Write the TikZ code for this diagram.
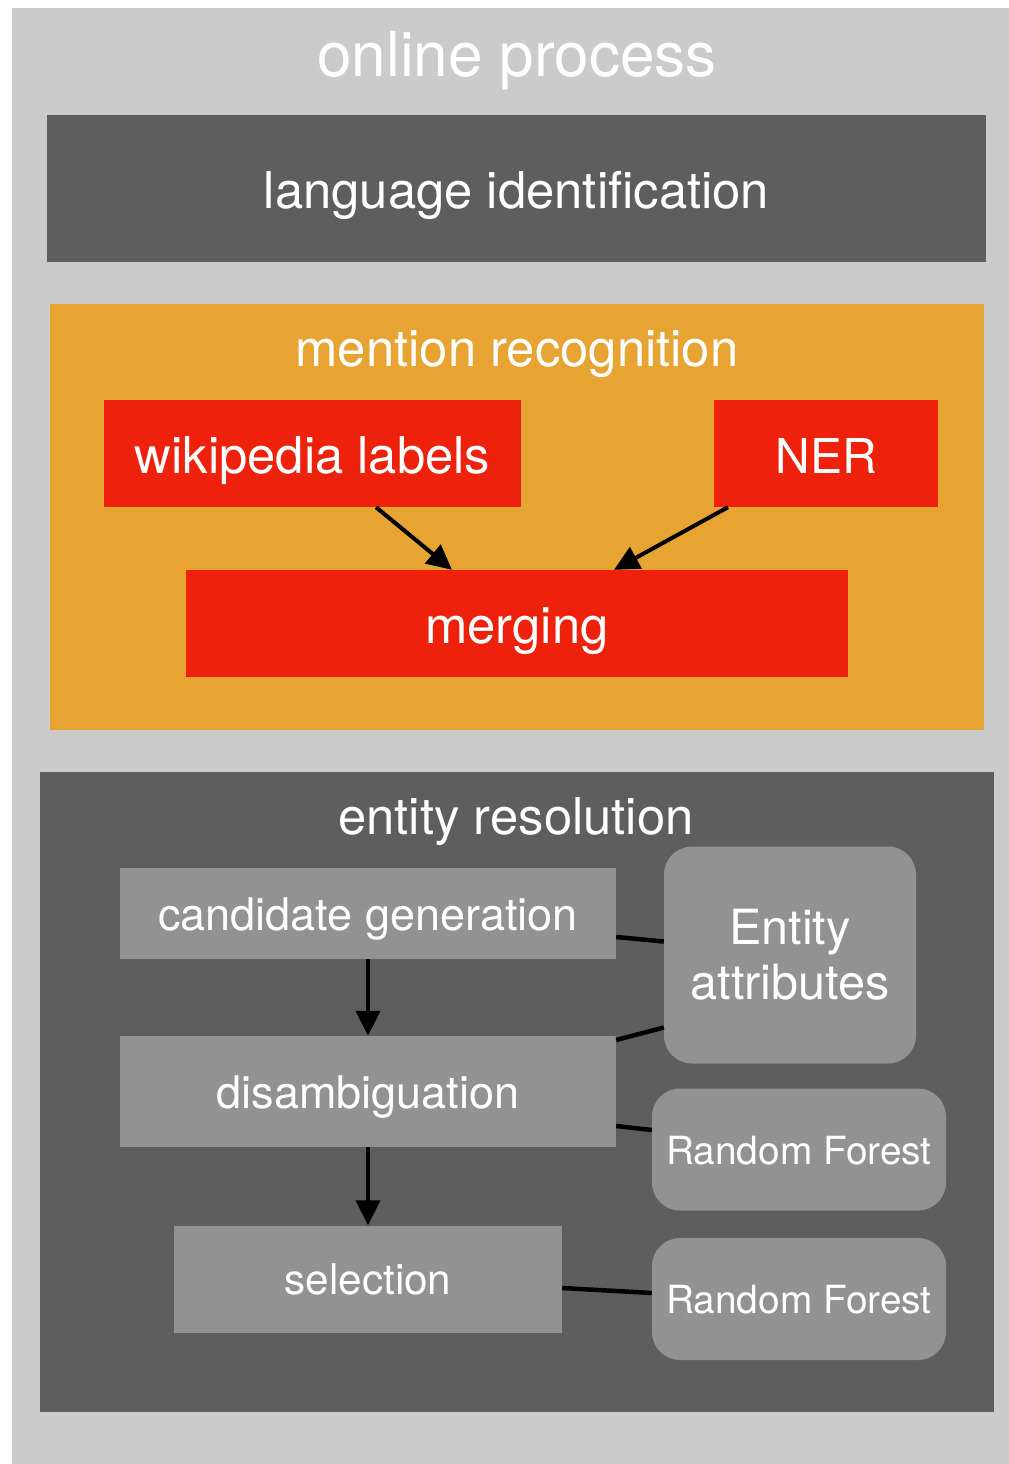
\documentclass[tikz,border=0pt]{standalone}
\usepackage{fontspec}
\setmainfont{TeX Gyre Heros}
\usetikzlibrary{arrows.meta}

\definecolor{panelgray}{HTML}{CBCBCB}
\definecolor{darkgray}{HTML}{5E5E5E}
\definecolor{midgray}{HTML}{929292}
\definecolor{stageorange}{HTML}{E8A433}
\definecolor{stepred}{HTML}{EE220C}

\tikzset{
  block/.style={rectangle, inner sep=0pt, text=white, align=center},
  heading/.style={inner sep=0pt, text=white, anchor=base},
  f62/.style={font=\fontsize{62pt}{74pt}\selectfont},
  f51/.style={font=\fontsize{50.8pt}{61pt}\selectfont, text height=39pt, text depth=0pt},
  f45/.style={font=\fontsize{45pt}{54pt}\selectfont, text height=34pt, text depth=0pt},
  f42/.style={font=\fontsize{42.3pt}{51pt}\selectfont, text height=31pt, text depth=0pt},
  f39/.style={font=\fontsize{38.8pt}{46pt}\selectfont, text height=29pt, text depth=0pt},
  redbox/.style={block, fill=stepred, f51},
  graybox/.style={block, fill=midgray},
  model/.style={block, fill=midgray, rounded corners=28pt},
  flow/.style={line width=4pt, -{Triangle[length=25pt, width=24pt]}},
  link/.style={line width=4.5pt},
}

\begin{document}
\begin{tikzpicture}[x=1pt, y=-1pt]
  \useasboundingbox (0,0) rectangle (1009,1464);
  \fill[white] (0,0) rectangle (1009,1464);
  \fill[panelgray] (12,8) rectangle (1009,1464);

  % overall title
  \node[heading, f62] (online) at (517,77) {online process};

  % language identification
  \node[block, fill=darkgray, minimum width=939pt, minimum height=147pt, f51]
    (langid) at (516.5,188.5) {language identification};

  % mention recognition stage
  \node[block, fill=stageorange, minimum width=934pt, minimum height=426pt]
    (mention) at (517,517) {};
  \node[heading, f51] (mentiontitle) at (517,366) {mention recognition};
  \node[redbox, minimum width=417pt, minimum height=107pt]
    (wiki) at (312.5,453.5) {wikipedia labels};
  \node[redbox, minimum width=224pt, minimum height=107pt,
        font=\fontsize{48pt}{58pt}\selectfont]
    (ner) at (826,453.5) {NER};
  \node[redbox, minimum width=662pt, minimum height=107pt]
    (merge) at (517,623.5) {merging};
  \draw[flow] ([xshift=63.5pt]wiki.south) -- ([xshift=-65pt]merge.north);
  \draw[flow] ([xshift=-98pt]ner.south) -- ([xshift=97pt]merge.north);

  % entity resolution stage
  \node[block, fill=darkgray, minimum width=954pt, minimum height=640pt]
    (resolution) at (517,1092) {};
  \node[heading, f51] (resolutiontitle) at (516,834) {entity resolution};
  \node[graybox, f45, minimum width=496pt, minimum height=91pt]
    (cand) at (368,913.5) {candidate generation};
  \node[graybox, f45, minimum width=496pt, minimum height=111pt]
    (disamb) at (368,1091.5) {disambiguation};
  \node[graybox, f42, minimum width=388pt, minimum height=107pt]
    (select) at (368,1279) {selection};
  \node[model, minimum width=252pt, minimum height=217pt,
        font=\fontsize{48.5pt}{55pt}\selectfont]
    (attrs) at (790,955) {Entity\\attributes};
  \node[model, f39, minimum width=294pt, minimum height=122pt]
    (rfa) at (799,1149.5) {Random Forest};
  \node[model, f39, minimum width=294pt, minimum height=122pt]
    (rfb) at (799,1299) {Random Forest};

  \draw[flow] (cand.south) -- (disamb.north);
  \draw[flow] (disamb.south) -- (select.north);
  \draw[link] ([yshift=-23.5pt]cand.east) -- ([yshift=13.5pt]attrs.west);
  \draw[link] ([yshift=51.5pt]disamb.east) -- ([yshift=-72.5pt]attrs.west);
  \draw[link] ([yshift=-34.5pt]disamb.east) -- ([yshift=19.5pt]rfa.west);
  \draw[link] ([yshift=-9pt]select.east) -- ([yshift=6pt]rfb.west);
\end{tikzpicture}
\end{document}
